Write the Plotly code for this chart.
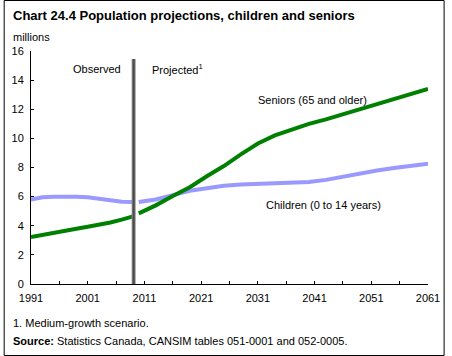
import plotly.graph_objects as go

# ---- data (millions) ----
years_obs = [1991, 1993, 1995, 1997, 1999, 2001, 2003, 2005, 2007, 2009]
children_obs = [5.80, 5.95, 6.00, 6.02, 6.00, 5.95, 5.85, 5.72, 5.65, 5.63]
seniors_obs = [3.22, 3.38, 3.52, 3.67, 3.80, 3.93, 4.05, 4.22, 4.42, 4.64]

years_proj = [2010, 2013, 2016, 2019, 2022, 2025, 2028, 2031, 2034, 2037,
              2040, 2043, 2046, 2049, 2052, 2055, 2058, 2061]
children_proj = [5.63, 5.80, 6.10, 6.40, 6.58, 6.75, 6.83, 6.87, 6.90, 6.92,
                 7.00, 7.15, 7.38, 7.60, 7.80, 7.97, 8.12, 8.25]
seniors_proj = [4.85, 5.40, 6.05, 6.65, 7.40, 8.10, 8.90, 9.65, 10.20, 10.60,
                11.00, 11.30, 11.65, 12.05, 12.40, 12.75, 13.05, 13.40]

split_year = 2009.1
x_ticks = [1991, 2001, 2011, 2021, 2031, 2041, 2051, 2061]
y_ticks = [0, 2, 4, 6, 8, 10, 12, 14, 16]

W, H = 452, 356
L, R, T, B = 28, 17, 51, 72
PW, PH = W - L - R, H - T - B

def px(x):
    return (x - L) / PW

def py(y):
    return (H - B - y) / PH

FONT = "Liberation Sans, Arial, sans-serif"
GREEN = "#008000"
PURPLE = "#9999FF"

fig = go.Figure()
for xs, ys, c in [(years_obs, children_obs, PURPLE), (years_proj, children_proj, PURPLE),
                  (years_obs, seniors_obs, GREEN), (years_proj, seniors_proj, GREEN)]:
    fig.add_trace(go.Scatter(x=xs, y=ys, mode="lines",
                             line=dict(color=c, width=4),
                             hoverinfo="skip", showlegend=False))

# vertical divider
fig.add_shape(type="line", xref="x", yref="paper", x0=split_year, x1=split_year,
              y0=0, y1=py(59), line=dict(color="#8a8a8a", width=4), layer="above")
fig.add_shape(type="line", xref="x", yref="paper", x0=split_year, x1=split_year,
              y0=0, y1=py(59), line=dict(color="#4a4a4a", width=2), layer="above")

# outer border
fig.add_shape(type="rect", xref="paper", yref="paper",
              x0=px(0.5), x1=px(W - 0.5), y0=py(H - 0.5), y1=py(0.5),
              line=dict(color="black", width=1))

ann = []
def text(x, y, s, size=11, xanchor="left"):
    ann.append(dict(xref="paper", yref="paper", x=px(x), y=py(y), text=s,
                    showarrow=False, xanchor=xanchor, yanchor="middle",
                    font=dict(family=FONT, size=size, color="black")))

text(8, 15, "<b>Chart 24.4 Population projections, children and seniors</b>", size=13)
text(8, 37, "millions", size=11)
text(96, 69, "Observed", xanchor="center")
text(150, 69, "Projected<sup>1</sup>")
text(259, 100, "Seniors (65 and older)")
text(267, 205, "Children (0 to 14 years)")
text(7, 323, "1. Medium-growth scenario.")
text(7, 341, "<b>Source:</b> Statistics Canada, CANSIM tables 051-0001 and 052-0005.")

fig.update_layout(
    width=W, height=H, margin=dict(l=L, r=R, t=T, b=B),
    paper_bgcolor="white", plot_bgcolor="white",
    font=dict(family=FONT, size=11, color="black"),
    showlegend=False, hovermode=False, annotations=ann,
)
fig.update_xaxes(range=[1991, 2061], tickvals=x_ticks, ticks="inside", ticklen=3,
                 tickcolor="black", showline=True, linecolor="black", linewidth=1,
                 showgrid=False, zeroline=False, fixedrange=True,
                 minor=dict(dtick=5, tick0=1991, ticks="inside", ticklen=3, tickcolor="black"),
                 tickfont=dict(family=FONT, size=11), ticklabelstandoff=4)
fig.update_yaxes(range=[0, 16], tickvals=y_ticks, ticks="inside", ticklen=3,
                 tickcolor="black", showline=True, linecolor="black", linewidth=1,
                 showgrid=False, zeroline=False, fixedrange=True,
                 tickfont=dict(family=FONT, size=11), ticklabelstandoff=4)

fig.write_html("out.html", config={"displayModeBar": False},
               post_script="document.body.style.margin='0';document.body.style.overflow='hidden';")
